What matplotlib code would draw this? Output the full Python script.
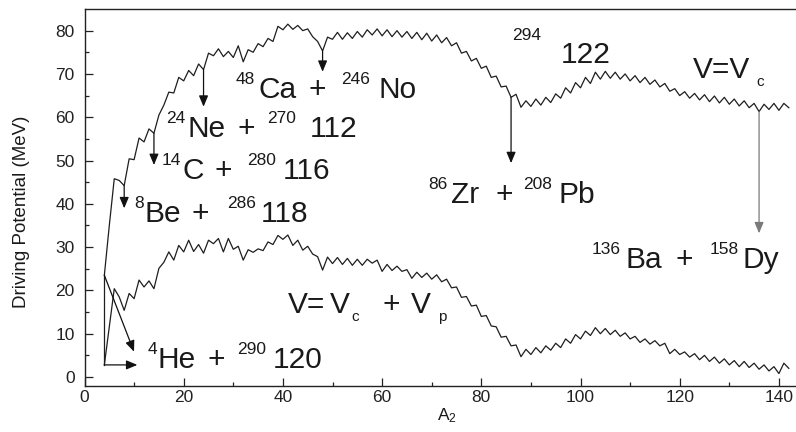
import numpy as np
import matplotlib
matplotlib.use("Agg")
import matplotlib.pyplot as plt
from matplotlib.transforms import ScaledTranslation

plt.rcParams['font.family'] = ['Liberation Sans', 'DejaVu Sans']
plt.rcParams['mathtext.fontset'] = 'custom'
plt.rcParams['mathtext.rm'] = 'Liberation Sans'
plt.rcParams['mathtext.it'] = 'Liberation Sans:italic'

# ---------------- data ----------------
# light-fragment mass number A2
a2 = list(range(4, 143))

# V = Vc (upper curve), A2 = 4 ... 142
v_coulomb = [
    23.5, 35.0, 45.8, 45.4, 44.2, 50.4, 50.2, 55.2, 54.3, 57.3,
    56.3, 60.5, 62.8, 65.8, 65.6, 69.2, 68.4, 70.8, 69.6, 72.3,
    71.0, 74.8, 74.2, 75.8, 74.0, 75.2, 73.8, 76.5, 72.8, 75.6,
    75.0, 77.0, 76.3, 78.2, 77.5, 81.0, 80.2, 81.5, 80.3, 81.2,
    80.0, 80.4, 78.6, 77.5, 75.3, 78.5, 78.0, 79.6, 78.0, 79.5,
    78.2, 79.8, 78.5, 80.2, 79.0, 80.4, 78.8, 80.2, 78.6, 80.0,
    78.5, 79.8, 78.2, 79.6, 77.9, 79.4, 77.6, 79.0, 77.2, 78.4,
    76.5, 77.2, 74.8, 75.2, 73.0, 73.6, 71.3, 71.8, 69.2, 69.5,
    67.0, 67.2, 64.6, 65.3, 62.3, 63.8, 62.5, 64.2, 62.8, 64.6,
    63.4, 65.4, 64.4, 66.8, 65.6, 68.0, 66.8, 69.2, 67.8, 70.4,
    68.8, 70.6, 69.0, 70.4, 68.8, 70.0, 68.4, 69.6, 68.0, 69.2,
    67.6, 68.6, 67.0, 67.8, 66.0, 66.6, 65.0, 65.9, 64.4, 65.5,
    64.0, 65.2, 63.6, 64.9, 63.3, 64.6, 63.0, 64.2, 62.6, 63.8,
    62.2, 63.2, 61.3, 63.0, 61.8, 63.2, 61.6, 63.2, 62.2,
]

# V = Vc + Vp (lower curve), A2 = 4 ... 142
v_total = [
    2.8, 11.6, 20.4, 18.5, 15.4, 19.3, 18.1, 22.4, 20.8, 22.2,
    20.4, 25.1, 26.5, 28.9, 27.0, 30.4, 28.9, 31.6, 29.0, 30.6,
    28.6, 31.6, 30.8, 32.0, 28.9, 32.0, 29.5, 30.2, 27.0, 29.4,
    28.8, 29.6, 29.2, 31.2, 30.6, 32.7, 31.8, 32.8, 30.4, 31.6,
    29.3, 30.2, 28.4, 27.8, 24.7, 27.7, 26.2, 27.6, 26.0, 27.4,
    25.8, 27.2, 25.8, 27.2, 26.3, 27.0, 24.4, 26.0, 24.6, 25.6,
    24.4, 24.8, 22.8, 24.2, 23.0, 24.0, 22.6, 23.6, 22.0, 22.6,
    20.6, 20.8, 18.4, 18.6, 16.4, 16.6, 14.0, 14.2, 11.8, 11.6,
    9.2, 9.4, 7.2, 7.4, 4.7, 6.4, 5.2, 6.8, 5.6, 7.2,
    6.2, 7.8, 6.8, 8.8, 7.8, 9.8, 8.8, 10.6, 9.6, 11.4,
    10.0, 11.2, 9.8, 10.8, 9.4, 10.2, 8.8, 9.4, 8.0, 8.8,
    7.6, 8.4, 7.2, 7.8, 5.4, 6.4, 5.2, 5.8, 4.6, 5.4,
    4.0, 5.0, 3.6, 4.6, 3.2, 4.2, 2.8, 3.8, 2.4, 3.6,
    2.2, 3.2, 1.8, 2.8, 1.4, 2.4, 0.8, 3.2, 2.0,
]

x_ticks = [0, 20, 40, 60, 80, 100, 120, 140]
y_ticks = [0, 10, 20, 30, 40, 50, 60, 70, 80]

# decay channels marked by arrows on the Vc curve
channel_a2 = [8, 14, 24, 48, 86, 136]
channel_tip = [38.97, 48.97, 62.43, 70.5, 49.4, 33.2]
channel_color = ['#111111', '#111111', '#111111', '#111111', '#111111', '#7a7a7a']

# alpha channel arrows
alpha_a2 = 4
alpha_diag_tip = (9.98, 5.85)
alpha_horiz_tip = 10.65

# ---------------- figure ----------------
TXT = '#1a1a1a'
fig = plt.figure(figsize=(7.96, 4.32), dpi=100)
ax = fig.add_axes([0.10616, 0.1072, 0.9004, 0.872])
ax.set_xlim(0, 144.5)
ax.set_ylim(-2, 85)

ax.plot(a2, v_coulomb, color='#1e1e1e', lw=0.9)
ax.plot(a2, v_total, color='#1e1e1e', lw=0.9)

ax.set_xticks(x_ticks)
ax.set_yticks(y_ticks)
ax.set_xticks(np.arange(10, 145, 20), minor=True)
ax.set_yticks(np.arange(5, 85, 10), minor=True)
ax.tick_params(which='both', direction='in', width=0.9, colors='#222222',
               top=False, right=False)
ax.tick_params(which='major', length=5.5)
ax.tick_params(which='minor', length=3.0)
ax.tick_params(axis='x', which='major', labelsize=12.5, pad=3.0)
ax.tick_params(axis='y', which='major', labelsize=12.5, pad=7.0)
for sp in ax.spines.values():
    sp.set_linewidth(1.0)
    sp.set_color('#222222')

ax.set_ylabel('Driving Potential (MeV)', fontsize=13.5, color=TXT)
ax.yaxis.set_label_coords(-0.076, 0.462)
ax.set_xlabel('A$_\\mathregular{2}$', fontsize=12.5, color=TXT)
ax.xaxis.set_label_coords(0.5058, -0.056)

arrow_style = '-|>,head_length=0.55,head_width=0.23'

idx = {a: i for i, a in enumerate(a2)}
for a, tip, col in zip(channel_a2, channel_tip, channel_color):
    ax.annotate('', xy=(a, tip), xytext=(a, v_coulomb[idx[a]]),
                arrowprops=dict(arrowstyle=arrow_style, mutation_scale=12,
                                lw=0.9, color=col, shrinkA=0, shrinkB=0))

i0 = idx[alpha_a2]
ax.plot([alpha_a2, alpha_a2], [v_total[i0], v_coulomb[i0]], color='#1e1e1e', lw=0.9)
ax.annotate('', xy=alpha_diag_tip, xytext=(alpha_a2, v_coulomb[i0]),
            arrowprops=dict(arrowstyle=arrow_style, mutation_scale=12,
                            lw=0.9, color='#111111', shrinkA=0, shrinkB=0))
ax.annotate('', xy=(alpha_horiz_tip, v_total[i0]), xytext=(alpha_a2, v_total[i0]),
            arrowprops=dict(arrowstyle=arrow_style, mutation_scale=12,
                            lw=0.9, color='#111111', shrinkA=0, shrinkB=0))

# ---------------- labels ----------------
MAIN, SMALL, SUB = 21.5, 12.5, 11


def put(a, v, parts):
    for s, kind, dx in parts:
        if kind == 'main':
            fs, dy = MAIN, 0
        elif kind == 'sup':
            fs, dy = SMALL, 10
        elif kind == 'sup2':
            fs, dy = SMALL, 17
        else:
            fs, dy = SUB, -5.5
        tr = ax.transData + ScaledTranslation(dx / 100, dy / 72, fig.dpi_scale_trans)
        ax.text(a, v, s, fontsize=fs, transform=tr, ha='left', va='baseline', color=TXT)


put(30.48, 64.37, [('48', 'sup', 0), ('Ca', 'main', 23.3), ('+', 'main', 73.3),
                   ('246', 'sup', 105), ('No', 'main', 143.3)])
put(16.37, 55.51, [('24', 'sup', 0), ('Ne', 'main', 22.3), ('+', 'main', 72.3),
                   ('270', 'sup', 101.6), ('112', 'main', 144)])
put(15.63, 45.74, [('14', 'sup', 0), ('C', 'main', 20.5), ('+', 'main', 52.7),
                   ('280', 'sup', 85.3), ('116', 'main', 121)])
put(10.0, 35.88, [('8', 'sup', 0), ('Be', 'main', 10.5), ('+', 'main', 57.5),
                  ('286', 'sup', 92.6), ('118', 'main', 126.6)])
put(12.66, 2.02, [('4', 'sup', 0), ('He', 'main', 10.5), ('+', 'main', 60.7),
                  ('290', 'sup', 90), ('120', 'main', 125.7)])
put(69.31, 40.12, [('86', 'sup', 0), ('Zr', 'main', 22.4), ('+', 'main', 67.4),
                   ('208', 'sup', 95), ('Pb', 'main', 130.7)])
put(102.26, 25.11, [('136', 'sup', 0), ('Ba', 'main', 34), ('+', 'main', 84),
                    ('158', 'sup', 118.3), ('Dy', 'main', 150.6)])
put(86.13, 72.46, [('294', 'sup2', 0), ('122', 'main', 49)])
put(122.74, 68.99, [('V=V', 'main', 0), ('c', 'sub', 63.4)])
put(41.09, 14.72, [('V=', 'main', 0), ('V', 'main', 42), ('c', 'sub', 63.5),
                   ('+', 'main', 94), ('V', 'main', 122.4), ('p', 'sub', 150)])

fig.savefig('out.png', dpi=100)
